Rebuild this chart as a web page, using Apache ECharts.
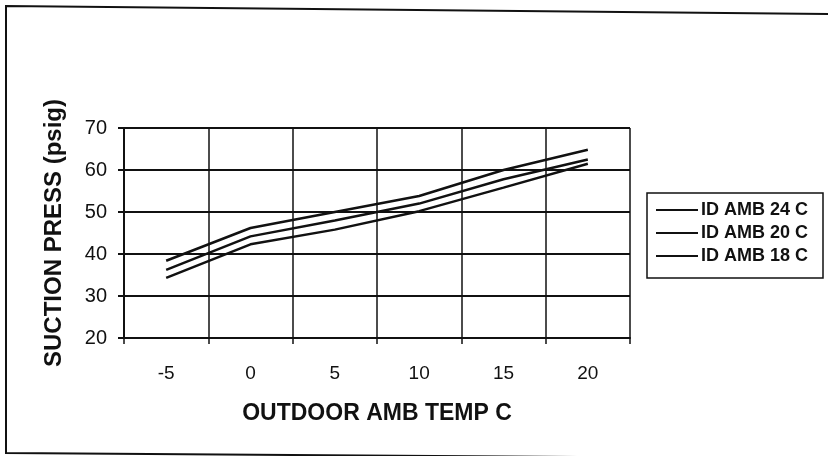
<!DOCTYPE html>
<html>
<head>
<meta charset="utf-8">
<script src="https://cdn.jsdelivr.net/npm/echarts@6/dist/echarts.min.js"></script>
<style>
  html, body { margin: 0; padding: 0; background: #ffffff; }
  #chart { width: 828px; height: 456px; }
</style>
</head>
<body>
<div id="chart"></div>
<script>
// Outdoor ambient temperature (deg C) categories
const outdoorTemps = ['-5', '0', '5', '10', '15', '20'];

// Suction pressure (psig) for each indoor ambient temperature
const idAmb24 = [38.4, 46.2, 50.0, 53.8, 60.0, 64.8];
const idAmb20 = [36.2, 44.2, 48.0, 52.0, 57.8, 62.5];
const idAmb18 = [34.3, 42.3, 45.8, 50.2, 55.8, 61.5];

const seriesNames = ['ID AMB 24 C', 'ID AMB 20 C', 'ID AMB 18 C'];

// Pressure axis range
const yMin = 20, yMax = 70, yStep = 10;

const FONT = '"Liberation Sans", Arial, sans-serif';
const INK = '#111111';

const chart = echarts.init(document.getElementById('chart'), null, { renderer: 'canvas' });

function lineSeries(name, data) {
  return {
    name: name,
    type: 'line',
    data: data,
    showSymbol: false,
    symbol: 'none',
    smooth: false,
    lineStyle: { color: INK, width: 2.5 },
    itemStyle: { color: INK },
    emphasis: { disabled: true },
    z: 5
  };
}

chart.setOption({
  animation: false,
  backgroundColor: '#ffffff',
  textStyle: { fontFamily: FONT, color: INK },
  grid: { left: 124, top: 128, width: 506, height: 210, containLabel: false },
  xAxis: {
    type: 'category',
    data: outdoorTemps,
    boundaryGap: true,
    name: 'OUTDOOR AMB TEMP C',
    nameLocation: 'middle',
    nameGap: 64,
    nameTextStyle: { fontFamily: FONT, fontSize: 23, fontWeight: 'bold', color: INK },
    axisLine: { show: true, lineStyle: { color: INK, width: 2 } },
    axisTick: { show: true, inside: false, length: 6, interval: 0, lineStyle: { color: INK, width: 1.5 } },
    axisLabel: { fontFamily: FONT, fontSize: 19, color: INK, margin: 26, interval: 0 },
    splitLine: { show: true, interval: 0, lineStyle: { color: INK, width: 1.5 } }
  },
  yAxis: {
    type: 'value',
    min: yMin,
    max: yMax,
    interval: yStep,
    name: 'SUCTION PRESS (psig)',
    nameLocation: 'middle',
    nameGap: 58,
    nameTextStyle: { fontFamily: FONT, fontSize: 24, fontWeight: 'bold', color: INK },
    axisLine: { show: true, lineStyle: { color: INK, width: 2 } },
    axisTick: { show: true, inside: false, length: 6, lineStyle: { color: INK, width: 2 } },
    axisLabel: { fontFamily: FONT, fontSize: 20, color: INK, margin: 17 },
    splitLine: { show: true, lineStyle: { color: INK, width: 2 } }
  },
  legend: {
    data: seriesNames,
    orient: 'vertical',
    left: 656,
    top: 201,
    padding: 0,
    itemGap: 5,
    itemWidth: 42,
    itemHeight: 2,
    icon: 'rect',
    selectedMode: false,
    textStyle: { fontFamily: FONT, fontSize: 18, fontWeight: 'bold', color: INK, lineHeight: 15, padding: [0, 0, 0, -2] }
  },
  graphic: [
    {
      // legend frame
      type: 'rect',
      shape: { x: 647, y: 193, width: 176, height: 85 },
      style: { fill: 'none', stroke: INK, lineWidth: 1.5 },
      silent: true
    },
    {
      // outer page frame
      type: 'polyline',
      shape: { points: [[830, 14], [6, 6], [6, 453], [720, 458]] },
      style: { fill: 'none', stroke: INK, lineWidth: 2 },
      silent: true
    }
  ],
  series: [
    lineSeries(seriesNames[0], idAmb24),
    lineSeries(seriesNames[1], idAmb20),
    lineSeries(seriesNames[2], idAmb18)
  ]
});
</script>
</body>
</html>
